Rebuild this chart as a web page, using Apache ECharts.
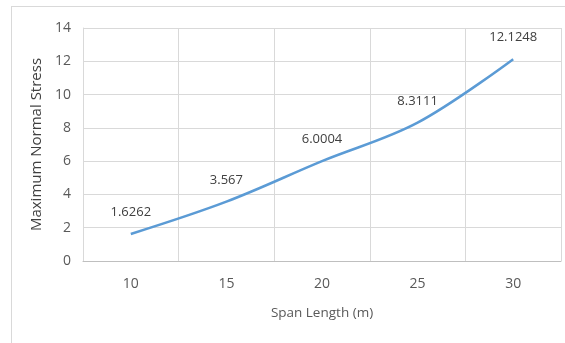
<!DOCTYPE html>
<html>
<head>
<meta charset="utf-8">
<script src="https://cdn.jsdelivr.net/npm/echarts@6/dist/echarts.min.js"></script>
<style>
  html, body { margin: 0; padding: 0; background: #ffffff; }
  #frame { position: absolute; left: 11px; top: 6px; width: 600px; height: 400px; border: 1px solid #d9d9d9; box-sizing: border-box; }
  #chart { position: absolute; left: 0; top: 0; width: 565px; height: 343px; }
</style>
</head>
<body>
<div id="frame"></div>
<div id="chart"></div>
<script>
// Span length categories (m) and maximum normal stress values
const spanLengths = ['10', '15', '20', '25', '30'];
const maxStress = [1.6262, 3.567, 6.0004, 8.3111, 12.1248];
const yTicks = { min: 0, max: 14, interval: 2 };

const chart = echarts.init(document.getElementById('chart'), null, { renderer: 'canvas' });
const font = '"Open Sans", sans-serif';

chart.setOption({
  backgroundColor: 'transparent',
  animation: false,
  grid: { left: 83, right: 4, top: 28, bottom: 82, containLabel: false },
  xAxis: {
    type: 'category',
    data: spanLengths,
    boundaryGap: true,
    name: 'Span Length (m)',
    nameLocation: 'middle',
    nameGap: 45,
    nameTextStyle: { color: '#595959', fontSize: 13.5, fontFamily: font },
    axisLine: { show: true, lineStyle: { color: '#bfbfbf', width: 1 } },
    axisTick: { show: false },
    axisLabel: { color: '#595959', fontSize: 14, fontFamily: font, margin: 16 },
    splitLine: { show: true, lineStyle: { color: '#d9d9d9', width: 1 } }
  },
  yAxis: {
    type: 'value',
    min: yTicks.min,
    max: yTicks.max,
    interval: yTicks.interval,
    name: 'Maximum Normal Stress',
    nameLocation: 'middle',
    nameGap: 36,
    nameTextStyle: { color: '#404040', fontSize: 15, fontFamily: font },
    axisLine: { show: true, lineStyle: { color: '#d9d9d9', width: 1 } },
    axisTick: { show: false },
    axisLabel: { color: '#595959', fontSize: 14, fontFamily: font, margin: 12 },
    splitLine: { show: true, lineStyle: { color: '#d9d9d9', width: 1 } }
  },
  series: [{
    type: 'line',
    data: maxStress,
    smooth: 0.35,
    showSymbol: true,
    symbol: 'circle',
    symbolSize: 2,
    itemStyle: { color: 'rgba(0,0,0,0)', borderWidth: 0 },
    lineStyle: { color: '#5b9bd5', width: 2.5 },
    label: {
      show: true,
      position: 'top',
      distance: 14,
      color: '#404040',
      fontSize: 13,
      fontFamily: font,
      formatter: p => String(p.value)
    },
    labelLayout: { hideOverlap: false }
  }]
});
</script>
</body>
</html>
